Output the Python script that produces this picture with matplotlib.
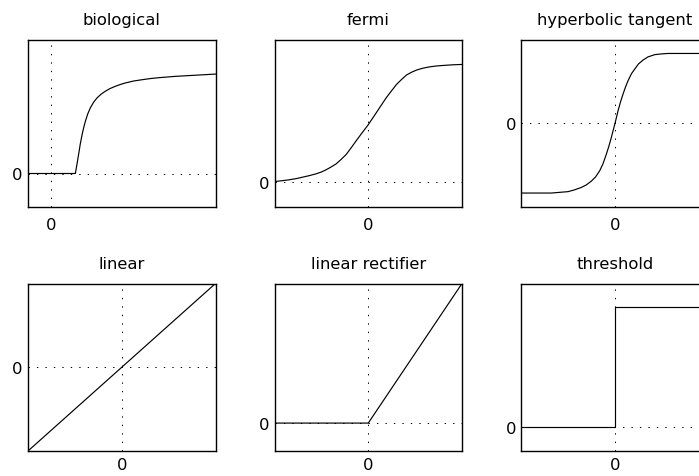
"""Six common neuron activation functions, one small panel each."""

import matplotlib
matplotlib.use("Agg")
import matplotlib.pyplot as plt

# sampled activation curves
bio_x = [-1.0, 1.02, 1.09, 1.16, 1.23, 1.31, 1.38, 1.45, 1.55, 1.66, 1.80, 1.95, 2.12,
         2.30, 2.50, 2.73, 2.95, 3.16, 3.50, 3.87, 4.20, 4.58, 5.29, 6.0, 7.0]
bio_y = [0.0, 0.0, 0.07, 0.143, 0.22, 0.292, 0.345, 0.391, 0.445, 0.49, 0.532, 0.565, 0.592,
         0.614, 0.634, 0.651, 0.665, 0.676, 0.69, 0.70, 0.708, 0.715, 0.725, 0.732, 0.742]

fermi_x = [-6.0, -5.5, -5.08, -4.6, -4.22, -3.8, -3.35, -3.0, -2.71, -2.4, -2.06, -1.75,
           -1.42, -1.1, -0.77, -0.4, 0.0, 0.26, 0.52, 0.85, 1.16, 1.5, 1.81, 2.15, 2.45, 2.8,
           3.10, 3.5, 3.95, 4.4, 4.81, 5.4, 6.0]
fermi_y = [0.005, 0.012, 0.019, 0.029, 0.040, 0.052, 0.067, 0.082, 0.099, 0.121, 0.147, 0.182,
           0.222, 0.276, 0.334, 0.397, 0.463, 0.512, 0.561, 0.624, 0.682, 0.738, 0.788, 0.830,
           0.864, 0.888, 0.904, 0.919, 0.930, 0.937, 0.941, 0.946, 0.949]

tanh_x = [-6.0, -5.0, -4.08, -3.01, -2.6, -2.16, -1.85, -1.52, -1.25, -0.98, -0.77, -0.56,
          -0.4, -0.24, 0.0, 0.19, 0.35, 0.51, 0.67, 0.83, 1.05, 1.26, 1.5, 1.79, 2.1, 2.54,
          2.95, 3.40, 6.0]
tanh_y = [-1.0, -1.0, -1.0, -0.98, -0.955, -0.92, -0.885, -0.83, -0.77, -0.68, -0.58, -0.445,
          -0.333, -0.205, 0.0, 0.178, 0.306, 0.417, 0.52, 0.609, 0.71, 0.776, 0.85, 0.905, 0.95,
          0.983, 0.993, 1.0, 1.0]

linear_x = [-1.0, 1.0]
linear_y = [-1.0, 1.0]

relu_x = [-1.0, 0.0, 1.0]
relu_y = [0.0, 0.0, 1.0]

step_x = [-1.0, 0.0, 0.0, 1.0]
step_y = [0.0, 0.0, 1.0, 1.0]

titles = ["biological", "fermi", "hyperbolic tangent",
          "linear", "linear rectifier", "threshold"]
zero_label = "0"

plt.rcParams["font.family"] = ["DejaVu Sans"]

W, H = 699, 477
fig = plt.figure(figsize=(W / 100, H / 100), dpi=100)

# panel boxes in pixels: (left, top, width, height)
cols = [28.0, 274.5, 521.3]
rows = [40.5, 284.5]
pw, ph = 187.5, 167.5
xpads = [7.5, 4.5]

panels = [
    (bio_x, bio_y, (-1.0, 7.0), (-0.25, 1.0)),
    (fermi_x, fermi_y, (-6.0, 6.0), (-0.2, 1.15)),
    (tanh_x, tanh_y, (-6.0, 6.0), (-1.2, 1.2)),
    (linear_x, linear_y, (-1.0, 1.0), (-1.0, 1.0)),
    (relu_x, relu_y, (-1.0, 1.0), (-0.2, 1.0)),
    (step_x, step_y, (-1.0, 1.0), (-0.2, 1.2)),
]

for i, (xs, ys, xlim, ylim) in enumerate(panels):
    left = cols[i % 3]
    top = rows[i // 3]
    ax = fig.add_axes([left / W, 1 - (top + ph) / H, pw / W, ph / H])
    ax.plot(xs, ys, color="black", lw=0.85, zorder=3)
    ax.axhline(0, color="black", lw=0.7, ls=(0, (1.4, 7.3)), zorder=2)
    ax.axvline(0, color="black", lw=0.7, ls=(0, (1.4, 7.3)), zorder=2)
    ax.set_xlim(*xlim)
    ax.set_ylim(*ylim)
    ax.set_xticks([0])
    ax.set_xticklabels([zero_label])
    ax.set_yticks([0])
    ax.set_yticklabels([zero_label])
    ax.tick_params(length=0, labelsize=11.8)
    ax.tick_params(axis="x", pad=xpads[i // 3])
    ax.tick_params(axis="y", pad=3.8)
    for sp in ax.spines.values():
        sp.set_linewidth(1.0)
    ax.set_title(titles[i], fontsize=11.8, pad=11)

fig.savefig("out.png", dpi=100)
